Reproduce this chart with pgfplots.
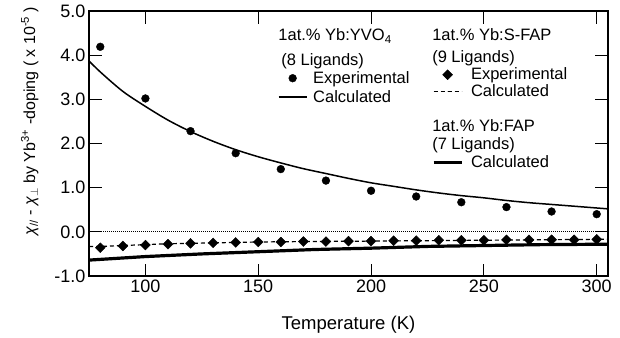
\documentclass[border=0pt]{standalone}
\usepackage{fontspec}
\setmainfont{Liberation Sans}
\usepackage{pgfplots}
\pgfplotsset{compat=1.18}
\newcommand{\rw}[1]{\rule[-#1]{0pt}{\dimexpr 12bp+#1\relax}}
\begin{document}
\begin{tikzpicture}
\pgfplotsset{
  common/.style={scale only axis, width=519bp, height=265bp,
    xmin=75, xmax=305, ymin=-1, ymax=5},
  lgd/.style={legend cell align=left,
    legend style={draw=none, fill=none, inner sep=0pt, outer sep=0pt,
      column sep=#1, row sep=0pt,
      font=\fontsize{16.5bp}{18bp}\selectfont,
      nodes={inner sep=0.75bp, text depth=, text height=}, cells={anchor=base west}},
    legend image code/.code={%
      \path (0bp,0bp) (28bp,0bp);
      \draw[mark repeat=2,mark phase=2,yshift=5bp,##1] plot coordinates {(0bp,0bp) (14bp,0bp) (28bp,0bp)};}},
}
\begin{axis}[common, lgd=5bp,
  axis line style={line width=1.4bp},
  tick style={line width=1bp, black},
  major tick length=12.5bp,
  tick align=inside,
  xtick={100,150,...,300}, ytick={-1,0,...,5},
  minor tick num=0,
  /pgf/number format/assume math mode=true,
  yticklabel style={/pgf/number format/.cd, fixed, fixed zerofill, precision=1},
  ticklabel style={font=\fontsize{18bp}{20bp}\selectfont},
  xlabel={Temperature (K)},
  every axis x label/.style={at={(axis description cs:0.5,-0.185)}, anchor=center, font=\fontsize{18.5bp}{20bp}\selectfont},
  ylabel={{\itshape χ}\textsubscript{//} - {\itshape χ}\textsubscript{$\perp$} by Yb\textsuperscript{3+} -doping ( x 10\textsuperscript{-5} )},
  every axis y label/.style={at={(axis description cs:-0.114,0.585)}, rotate=90, anchor=center, font=\fontsize{16bp}{18bp}\selectfont},
  legend style={at={(axis description cs:0.364,0.936)}, anchor=north west},
]
\addplot[forget plot, only marks, mark=*, mark size=3.9bp, black] coordinates {
(80,4.19)(100,3.02)(120,2.28)(140,1.78)(160,1.42)(180,1.16)(200,0.93)(220,0.80)(240,0.67)(260,0.56)(280,0.46)(300,0.40)};
\addplot[forget plot, black, line width=1.5bp, smooth] coordinates {
(75,3.87)(80,3.62)(90,3.18)(100,2.84)(110,2.53)(120,2.27)(130,2.05)(140,1.86)(150,1.70)(160,1.56)(170,1.43)(180,1.32)(190,1.21)(200,1.11)(210,1.03)(220,0.95)(230,0.88)(240,0.82)(250,0.77)(260,0.71)(270,0.66)(280,0.62)(290,0.58)(300,0.54)(305,0.52)};
\addlegendimage{empty legend}
\addlegendentry{\hspace{-34.75bp}1at.\% Yb:YVO\textsubscript{4}\rw{11.5bp}}
\addlegendimage{empty legend}
\addlegendentry{\hspace{-31.75bp}(8 Ligands)\rw{4bp}}
\addlegendimage{only marks, mark=*, mark size=3.9bp, black}
\addlegendentry{Experimental\rw{5.5bp}}
\addlegendimage{black, line width=1.5bp}
\addlegendentry{Calculated\rw{4bp}}
\end{axis}
\begin{axis}[common, hide axis, lgd=7bp,
  legend style={at={(axis description cs:0.661,0.936)}, anchor=north west},
]
\addplot[forget plot, black, line width=1bp, dash pattern=on 1bp off 1bp] coordinates {(75,0)(305,0)};
\addplot[forget plot, black, line width=1.2bp, dash pattern=on 4bp off 3bp] coordinates {
(75,-0.33)(80,-0.33)(90,-0.31)(100,-0.29)(110,-0.27)(120,-0.26)(130,-0.25)(140,-0.24)(150,-0.23)(170,-0.22)(200,-0.21)(250,-0.19)(300,-0.17)(305,-0.17)};
\addplot[forget plot, only marks, mark=square*, mark size=3.5bp, mark options={rotate=45}, black] coordinates {
(80,-0.36)(90,-0.32)(100,-0.30)(110,-0.28)(120,-0.26)(130,-0.25)(140,-0.24)(150,-0.23)(160,-0.23)(170,-0.22)(180,-0.22)(190,-0.21)(200,-0.21)(210,-0.20)(220,-0.20)(230,-0.19)(240,-0.19)(250,-0.19)(260,-0.18)(270,-0.18)(280,-0.18)(290,-0.18)(300,-0.17)};
\addplot[forget plot, black, line width=3.2bp] coordinates {
(75,-0.64)(100,-0.56)(125,-0.50)(150,-0.45)(175,-0.40)(200,-0.37)(225,-0.33)(250,-0.31)(275,-0.29)(305,-0.28)};
\addlegendimage{empty legend}
\addlegendentry{\hspace{-38.75bp}1at.\% Yb:S-FAP\rw{8.5bp}}
\addlegendimage{empty legend}
\addlegendentry{\hspace{-38.75bp}(9 Ligands)\rw{3.5bp}}
\addlegendimage{only marks, mark=square*, mark size=3.5bp, mark options={rotate=45}, black}
\addlegendentry{Experimental\rw{2.5bp}}
\addlegendimage{black, line width=1.2bp, dash pattern=on 4bp off 3bp}
\addlegendentry{Calculated\rw{21.5bp}}
\addlegendimage{empty legend}
\addlegendentry{\hspace{-38.75bp}1at.\% Yb:FAP\rw{4.5bp}}
\addlegendimage{empty legend}
\addlegendentry{\hspace{-38.75bp}(7 Ligands)\rw{4.5bp}}
\addlegendimage{black, line width=3.2bp}
\addlegendentry{Calculated\rw{4bp}}
\end{axis}
\pgfresetboundingbox
\path (-89bp,-62bp) rectangle (531bp,276bp);
\end{tikzpicture}
\end{document}
